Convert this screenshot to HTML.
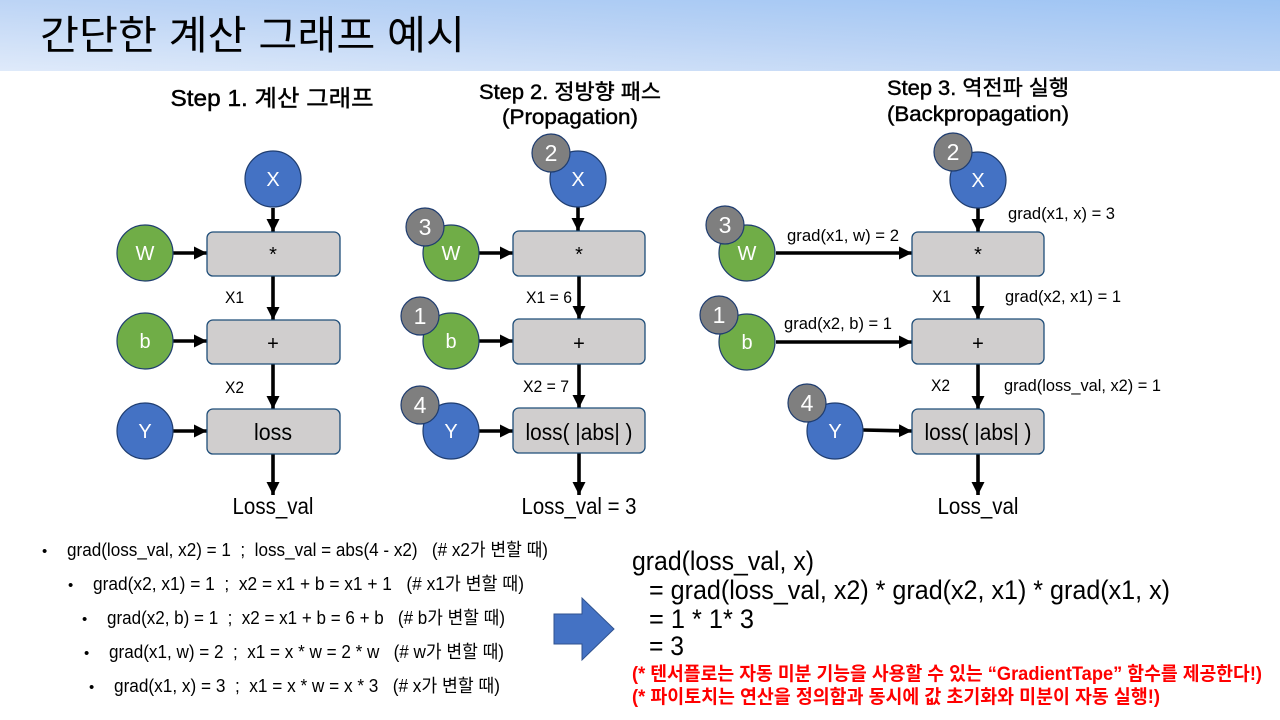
<!DOCTYPE html>
<html lang="ko"><head><meta charset="utf-8"><style>
html,body{margin:0;padding:0;background:#fff;width:1280px;height:720px;overflow:hidden}
svg{display:block}
text{font-family:"Liberation Sans","Noto Sans CJK KR",sans-serif;fill:#000}
.nb{fill:#4472c4;stroke:#1f3d70;stroke-width:1.2}
.ng{fill:#70ad47;stroke:#1f3d70;stroke-width:1.2}
.ngr{fill:#7f7f7f;stroke:#1f3d70;stroke-width:1.2}
.box{fill:#d0cece;stroke:#1f4e79;stroke-width:1.3}
.cl{fill:#fff;font-size:20px;text-anchor:middle}
.n{fill:#fff;font-size:23px;text-anchor:middle}
.bl{font-size:23px;text-anchor:middle}
.e{font-size:16.5px}
.h{font-size:23px;text-anchor:middle;stroke:#000;stroke-width:.45}
.ol{font-size:23px;text-anchor:middle}
.li{font-size:18px}
.fm{font-size:27px}
.rd{font-size:19px;font-weight:bold;fill:#f00}
line{stroke:#000;stroke-width:3.6}
</style></head><body>
<svg width="1280" height="720" viewBox="0 0 1280 720" xmlns="http://www.w3.org/2000/svg">
<defs>
<linearGradient id="hg" x1="0" y1="1" x2="1" y2="0" gradientUnits="objectBoundingBox"><stop offset="0" stop-color="#dfeafa"/><stop offset=".5" stop-color="#bcd4f5"/><stop offset="1" stop-color="#9cc3f3"/></linearGradient>
<marker id="a" markerUnits="userSpaceOnUse" markerWidth="14" markerHeight="14" refX="13" refY="6.5" orient="auto"><path d="M0 0L13 6.5L0 13Z" fill="#000"/></marker>
</defs>
<rect x="0" y="0" width="1280" height="71" fill="url(#hg)"/>
<text x="40" y="49" font-size="40" textLength="425" lengthAdjust="spacingAndGlyphs">간단한 계산 그래프 예시</text>

<!-- Column 1 -->
<text x="272" y="106" class="h" textLength="203" lengthAdjust="spacingAndGlyphs">Step 1. 계산 그래프</text>
<line x1="273" y1="208" x2="273" y2="232" marker-end="url(#a)"/>
<line x1="173" y1="253" x2="207" y2="253" marker-end="url(#a)"/>
<line x1="273" y1="276" x2="273" y2="320" marker-end="url(#a)"/>
<line x1="173" y1="341" x2="207" y2="341" marker-end="url(#a)"/>
<line x1="273" y1="364" x2="273" y2="409" marker-end="url(#a)"/>
<line x1="173" y1="431" x2="207" y2="431" marker-end="url(#a)"/>
<line x1="273" y1="454" x2="273" y2="495" marker-end="url(#a)"/>
<rect class="box" x="207" y="232" width="133" height="44" rx="6"/>
<rect class="box" x="207" y="320" width="133" height="44" rx="6"/>
<rect class="box" x="207" y="409" width="133" height="45" rx="6"/>
<circle class="nb" cx="273" cy="179" r="28"/><text class="cl" x="273" y="186">X</text>
<circle class="ng" cx="145" cy="253" r="28"/><text class="cl" x="145" y="260">W</text>
<circle class="ng" cx="145" cy="341" r="28"/><text class="cl" x="145" y="348">b</text>
<circle class="nb" cx="145" cy="431" r="28"/><text class="cl" x="145" y="438">Y</text>
<text class="bl" x="273" y="261" style="font-size:20px">*</text>
<text class="bl" x="273" y="350" style="font-size:20px">+</text>
<text class="bl" x="273" y="440" textLength="38" lengthAdjust="spacingAndGlyphs">loss</text>
<text class="e" x="225" y="303" textLength="19" lengthAdjust="spacingAndGlyphs">X1</text>
<text class="e" x="225" y="393" textLength="19" lengthAdjust="spacingAndGlyphs">X2</text>
<text class="ol" x="273" y="514" textLength="81" lengthAdjust="spacingAndGlyphs">Loss_val</text>

<!-- Column 2 -->
<text x="570" y="99" class="h" textLength="182" lengthAdjust="spacingAndGlyphs" style="font-size:21px">Step 2. 정방향 패스</text>
<text x="570" y="124" class="h" textLength="136" lengthAdjust="spacingAndGlyphs" style="font-size:21px">(Propagation)</text>
<line x1="578" y1="207" x2="578" y2="231" marker-end="url(#a)"/>
<line x1="479" y1="253" x2="513" y2="253" marker-end="url(#a)"/>
<line x1="579" y1="276" x2="579" y2="319" marker-end="url(#a)"/>
<line x1="479" y1="341" x2="513" y2="341" marker-end="url(#a)"/>
<line x1="579" y1="364" x2="579" y2="408" marker-end="url(#a)"/>
<line x1="479" y1="431" x2="513" y2="431" marker-end="url(#a)"/>
<line x1="579" y1="453" x2="579" y2="495" marker-end="url(#a)"/>
<rect class="box" x="513" y="231" width="132" height="45" rx="6"/>
<rect class="box" x="513" y="319" width="132" height="45" rx="6"/>
<rect class="box" x="513" y="408" width="132" height="45" rx="6"/>
<circle class="nb" cx="578" cy="179" r="28"/><text class="cl" x="578" y="186">X</text>
<circle class="ngr" cx="551" cy="153" r="19"/><text class="n" x="551" y="161">2</text>
<circle class="ng" cx="451" cy="253" r="28"/><text class="cl" x="451" y="260">W</text>
<circle class="ngr" cx="425" cy="227" r="19"/><text class="n" x="425" y="235">3</text>
<circle class="ng" cx="451" cy="341" r="28"/><text class="cl" x="451" y="348">b</text>
<circle class="ngr" cx="420" cy="316" r="19"/><text class="n" x="420" y="324">1</text>
<circle class="nb" cx="451" cy="431" r="28"/><text class="cl" x="451" y="438">Y</text>
<circle class="ngr" cx="420" cy="405" r="19"/><text class="n" x="420" y="413">4</text>
<text class="bl" x="579" y="261" style="font-size:20px">*</text>
<text class="bl" x="579" y="350" style="font-size:20px">+</text>
<text class="bl" x="579" y="440" textLength="107" lengthAdjust="spacingAndGlyphs" xml:space="preserve">loss( |abs| )</text>
<text class="e" x="526" y="303" textLength="46" lengthAdjust="spacingAndGlyphs">X1 = 6</text>
<text class="e" x="523" y="392" textLength="46" lengthAdjust="spacingAndGlyphs">X2 = 7</text>
<text class="ol" x="579" y="514" textLength="115" lengthAdjust="spacingAndGlyphs">Loss_val = 3</text>

<!-- Column 3 -->
<text x="978" y="95" class="h" textLength="182" lengthAdjust="spacingAndGlyphs" style="font-size:21px">Step 3. 역전파 실행</text>
<text x="978" y="121" class="h" textLength="182" lengthAdjust="spacingAndGlyphs" style="font-size:21px">(Backpropagation)</text>
<line x1="978" y1="208" x2="978" y2="232" marker-end="url(#a)"/>
<line x1="776" y1="253" x2="912" y2="253" marker-end="url(#a)"/>
<line x1="978" y1="276" x2="978" y2="319" marker-end="url(#a)"/>
<line x1="776" y1="342" x2="912" y2="342" marker-end="url(#a)"/>
<line x1="978" y1="364" x2="978" y2="409" marker-end="url(#a)"/>
<line x1="863" y1="430" x2="912" y2="431" marker-end="url(#a)"/>
<line x1="978" y1="454" x2="978" y2="495" marker-end="url(#a)"/>
<rect class="box" x="912" y="232" width="132" height="44" rx="6"/>
<rect class="box" x="912" y="319" width="132" height="45" rx="6"/>
<rect class="box" x="912" y="409" width="132" height="45" rx="6"/>
<circle class="nb" cx="978" cy="180" r="28"/><text class="cl" x="978" y="187">X</text>
<circle class="ngr" cx="953" cy="152" r="19"/><text class="n" x="953" y="160">2</text>
<circle class="ng" cx="747" cy="253" r="28"/><text class="cl" x="747" y="260">W</text>
<circle class="ngr" cx="725" cy="225" r="19"/><text class="n" x="725" y="233">3</text>
<circle class="ng" cx="747" cy="342" r="28"/><text class="cl" x="747" y="349">b</text>
<circle class="ngr" cx="719" cy="315" r="19"/><text class="n" x="719" y="323">1</text>
<circle class="nb" cx="835" cy="431" r="28"/><text class="cl" x="835" y="438">Y</text>
<circle class="ngr" cx="807" cy="403" r="19"/><text class="n" x="807" y="411">4</text>
<text class="bl" x="978" y="261" style="font-size:20px">*</text>
<text class="bl" x="978" y="350" style="font-size:20px">+</text>
<text class="bl" x="978" y="440" textLength="107" lengthAdjust="spacingAndGlyphs" xml:space="preserve">loss( |abs| )</text>
<text class="e" x="1008" y="219" textLength="107" lengthAdjust="spacingAndGlyphs">grad(x1, x) = 3</text>
<text class="e" x="787" y="241" textLength="112" lengthAdjust="spacingAndGlyphs">grad(x1, w) = 2</text>
<text class="e" x="932" y="302" textLength="19" lengthAdjust="spacingAndGlyphs">X1</text>
<text class="e" x="1005" y="302" textLength="116" lengthAdjust="spacingAndGlyphs">grad(x2, x1) = 1</text>
<text class="e" x="784" y="329" textLength="108" lengthAdjust="spacingAndGlyphs">grad(x2, b) = 1</text>
<text class="e" x="931" y="391" textLength="19" lengthAdjust="spacingAndGlyphs">X2</text>
<text class="e" x="1004" y="391" textLength="157" lengthAdjust="spacingAndGlyphs">grad(loss_val, x2) = 1</text>
<text class="ol" x="978" y="514" textLength="81" lengthAdjust="spacingAndGlyphs">Loss_val</text>

<!-- Bullets -->
<text class="li" x="42" y="556" style="font-size:15px">•</text><text class="li" x="67" y="556" textLength="481" lengthAdjust="spacingAndGlyphs" xml:space="preserve">grad(loss_val, x2) = 1  ;  loss_val = abs(4 - x2)   (# x2가 변할 때)</text>
<text class="li" x="68" y="590" style="font-size:15px">•</text><text class="li" x="93" y="590" textLength="431" lengthAdjust="spacingAndGlyphs" xml:space="preserve">grad(x2, x1) = 1  ;  x2 = x1 + b = x1 + 1   (# x1가 변할 때)</text>
<text class="li" x="82" y="624" style="font-size:15px">•</text><text class="li" x="107" y="624" textLength="398" lengthAdjust="spacingAndGlyphs" xml:space="preserve">grad(x2, b) = 1  ;  x2 = x1 + b = 6 + b   (# b가 변할 때)</text>
<text class="li" x="84" y="658" style="font-size:15px">•</text><text class="li" x="109" y="658" textLength="395" lengthAdjust="spacingAndGlyphs" xml:space="preserve">grad(x1, w) = 2  ;  x1 = x * w = 2 * w   (# w가 변할 때)</text>
<text class="li" x="89" y="692" style="font-size:15px">•</text><text class="li" x="114" y="692" textLength="386" lengthAdjust="spacingAndGlyphs" xml:space="preserve">grad(x1, x) = 3  ;  x1 = x * w = x * 3   (# x가 변할 때)</text>

<path d="M554 614H582V598L614 629L582 660V644H554Z" fill="#4472c4" stroke="#2f528f" stroke-width="1"/>

<!-- Formula -->
<text class="fm" x="632" y="570" textLength="182" lengthAdjust="spacingAndGlyphs">grad(loss_val, x)</text>
<text class="fm" x="649" y="599" textLength="521" lengthAdjust="spacingAndGlyphs">= grad(loss_val, x2) * grad(x2, x1) * grad(x1, x)</text>
<text class="fm" x="649" y="628" textLength="105" lengthAdjust="spacingAndGlyphs">= 1 * 1* 3</text>
<text class="fm" x="649" y="655" textLength="35" lengthAdjust="spacingAndGlyphs">= 3</text>
<text class="rd" x="632" y="680" textLength="630" lengthAdjust="spacingAndGlyphs">(* 텐서플로는 자동 미분 기능을 사용할 수 있는 “GradientTape” 함수를 제공한다!)</text>
<text class="rd" x="632" y="703" textLength="528" lengthAdjust="spacingAndGlyphs">(* 파이토치는 연산을 정의함과 동시에 값 초기화와 미분이 자동 실행!)</text>
</svg>
</body></html>
